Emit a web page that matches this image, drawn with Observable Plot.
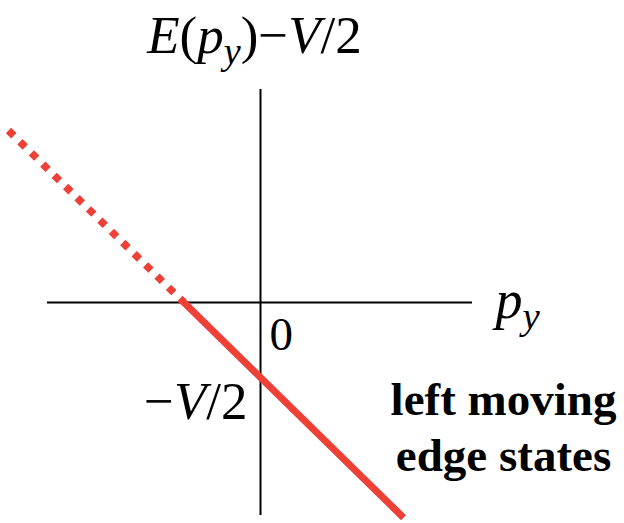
<!DOCTYPE html>
<html>
<head>
<meta charset="utf-8">
<script src="https://cdn.jsdelivr.net/npm/d3@7"></script>
<script src="https://cdn.jsdelivr.net/npm/@observablehq/plot@0.6"></script>
<style>
  html, body { margin: 0; padding: 0; background: #fff; }
  #chart svg { display: block; }
</style>
</head>
<body>
<div id="chart"></div>
<script>
// Energy of the left-moving edge state, E(p_y) - V/2 = -V/2 - s * p_y
const halfV = 0.75;          // V/2 in plot units
const slope = 0.98;          // dispersion slope
const pyDotted = [-2.52, -0.765];   // dotted (unphysical) part, above E = 0
const pySolid = [-0.765, 1.43];     // solid part, below E = 0
const axisExtent = [-2.13, 2.13];   // length of the two axes

const dotted = pyDotted.map(p => ({p, e: -halfV - slope * p}));
const solid = pySolid.map(p => ({p, e: -halfV - slope * p}));

// Labels: rich text pieces [string, style] where style: "i" italic, "s" italic subscript, "" upright
const labels = [
  {x: -0.06, y: 2.50, anchor: "middle", size: 53, bold: false,
   parts: [["E","i"],["(",""],["p","i"],["y","s"],[")",""],["\u2212",""],["V","i"],["/",""],["2",""]]},
  {x: 2.35, y: -0.15, anchor: "start", size: 54, bold: false,
   parts: [["p","i"],["y","s"]]},
  {x: 0.09, y: -0.47, anchor: "start", size: 47, bold: false,
   parts: [["0",""]]},
  {x: -0.13, y: -1.16, anchor: "end", size: 53, bold: false,
   parts: [["\u2212",""],["V","i"],["/",""],["2",""]]},
  {x: 2.43, y: -1.12, anchor: "middle", size: 47, bold: true,
   parts: [["left moving",""]]},
  {x: 2.43, y: -1.68, anchor: "middle", size: 47, bold: true,
   parts: [["edge states",""]]}
];
const plain = d => d.parts.map(q => q[0]).join("");

const red = "#ee4036";
const family = "Liberation Serif";

const textMark = (subset, anchor, bold) => Plot.text(subset, {
  x: "x", y: "y", text: plain, textAnchor: anchor, lineAnchor: "bottom",
  fontSize: d => d.size, fontWeight: bold ? "bold" : "normal",
  fontFamily: family, fill: "black"
});
const group = (anchor, bold) => labels.filter(d => d.anchor === anchor && d.bold === bold);

const chart = Plot.plot({
  width: 624,
  height: 523,
  margin: 0,
  x: {domain: [-2.60, 3.64], axis: null},
  y: {domain: [-2.21, 3.02], axis: null},
  marks: [
    Plot.ruleY([0], {x1: axisExtent[0], x2: 2.12, stroke: "black", strokeWidth: 2}),
    Plot.ruleX([0], {y1: axisExtent[0], y2: axisExtent[1], stroke: "black", strokeWidth: 2}),
    Plot.line(dotted, {x: "p", y: "e", stroke: red, strokeWidth: 7.5, strokeDasharray: "7.5,8.5", strokeLinecap: "butt"}),
    Plot.line(solid, {x: "p", y: "e", stroke: red, strokeWidth: 7, strokeLinecap: "butt"}),
    textMark(group("middle", false), "middle", false),
    textMark(group("middle", true), "middle", true),
    textMark(group("start", false), "start", false),
    textMark(group("end", false), "end", false)
  ]
});

// Rebuild label text as tspans for italic symbols and subscripts
const byText = new Map(labels.map(d => [plain(d), d]));
d3.select(chart).selectAll("text").each(function() {
  const el = d3.select(this);
  const d = byText.get(this.textContent);
  if (!d) return;
  el.attr("font-family", family).attr("font-weight", d.bold ? "bold" : "normal");
  if (d.parts.length === 1) return; // plain upright label, keep as is
  el.text(null);
  let sub = false;
  for (const [s, style] of d.parts) {
    const t = el.append("tspan").text(s).attr("font-family", family);
    if (style === "i" || style === "s") t.attr("font-style", "italic");
    if (style === "s") {
      t.attr("font-size", d.size * 0.72).attr("dy", d.size * 0.22);
      sub = true;
    } else if (sub) {
      t.attr("dy", -d.size * 0.22);
      sub = false;
    }
  }
});

document.getElementById("chart").append(chart);
</script>
</body>
</html>
